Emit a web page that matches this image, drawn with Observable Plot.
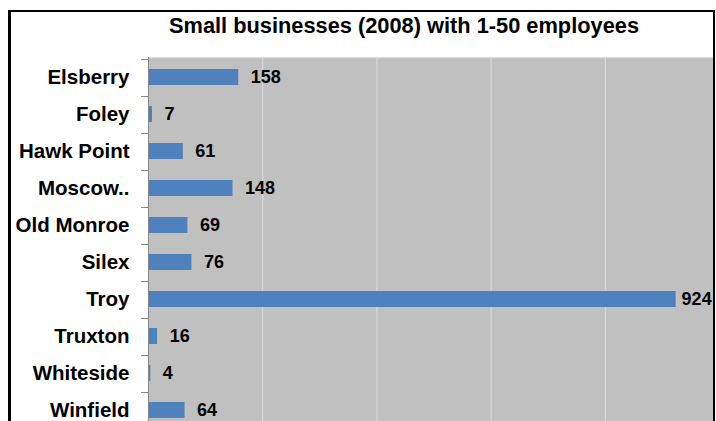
<!DOCTYPE html>
<html>
<head>
<meta charset="utf-8">
<script src="https://cdn.jsdelivr.net/npm/d3@7"></script>
<script src="https://cdn.jsdelivr.net/npm/@observablehq/plot@0.6"></script>
<style>
html, body { margin: 0; padding: 0; background: #fff; overflow: hidden; width: 716px; height: 421px; }
#frame {
  position: absolute; left: 8px; top: 10px; width: 702px; height: 480px;
  border-top: 2px solid #000; border-left: 3px solid #000; border-right: 2px solid #000;
  overflow: hidden; font-family: "Liberation Sans", Arial, sans-serif; background: #fff;
}
#title { position: relative; height: 45px; }
#title span {
  position: absolute; left: 393px; top: 3px; transform: translateX(-50%);
  white-space: nowrap; font-size: 21.8px; line-height: 21px; font-weight: bold; color: #000;
}
#chart svg { display: block; }
</style>
</head>
<body>
<div id="frame">
  <div id="title"><span>Small businesses (2008) with 1-50 employees</span></div>
  <div id="chart"></div>
</div>
<script>
const towns = ["Elsberry", "Foley", "Hawk Point", "Moscow..", "Old Monroe", "Silex", "Troy", "Truxton", "Whiteside", "Winfield"];
const counts = [158, 7, 61, 148, 69, 76, 924, 16, 4, 64];
const xDomain = [0, 1000];
const gridTicks = [200, 400, 600, 800];

const data = towns.map((t, i) => ({town: t, count: counts[i]}));
const maxCount = d3.max(counts);

const H = 364, marginTop = 0, marginBottom = -9, marginLeft = 137;

const plot = Plot.plot({
  width: 702,
  height: H,
  marginLeft,
  marginRight: -6,
  marginTop,
  marginBottom,
  style: {fontFamily: "'Liberation Sans', Arial, sans-serif", background: "transparent", overflow: "visible"},
  x: {domain: xDomain, axis: null},
  y: {domain: towns, paddingInner: 0.58, paddingOuter: 0.29, axis: null},
  marks: [
    Plot.frame({fill: "#C0C0C0", stroke: null}),
    Plot.ruleX(gridTicks, {stroke: "#DDDDDD", strokeWidth: 1}),
    Plot.barX(data, {x: "count", y: "town", fill: "#4F81BD"}),
    Plot.ruleX([0], {stroke: "#868686", strokeWidth: 1}),
    Plot.axisY({tickSize: 0, tickPadding: 19, fontSize: 20.5, fontWeight: "bold", fill: "#000", label: null}),
    Plot.text(data.filter(d => d.count < maxCount), {
      x: "count", y: "town", text: d => String(d.count), dx: 12,
      textAnchor: "start", fontSize: 18, fontWeight: "bold", fill: "#000"
    }),
    Plot.text(data.filter(d => d.count === maxCount), {
      x: "count", y: "town", text: d => String(d.count), dx: 5.5,
      textAnchor: "start", fontSize: 18, fontWeight: "bold", fill: "#000"
    })
  ]
});

// Category boundary ticks on the left axis, placed with Plot's own y scale
const ys = plot.scale("y");
const x0 = plot.scale("x").apply(0);
const bounds = towns.map(t => ys.apply(t) - (ys.step - ys.bandwidth) / 2);
d3.select(plot).append("g")
  .attr("stroke", "#868686")
  .selectAll("line")
  .data(bounds)
  .join("line")
  .attr("x1", x0 - 7).attr("x2", x0)
  .attr("y1", d => Math.round(d) + 0.5).attr("y2", d => Math.round(d) + 0.5);

document.getElementById("chart").appendChild(plot);
</script>
</body>
</html>
